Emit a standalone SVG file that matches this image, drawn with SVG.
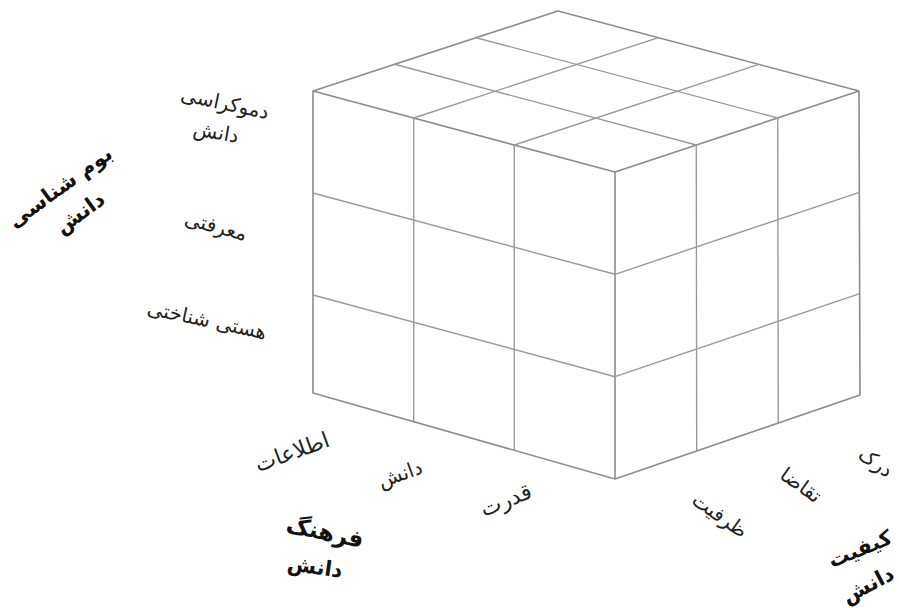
<svg xmlns="http://www.w3.org/2000/svg" width="899" height="608" viewBox="0 0 899 608">
<style>
.e{stroke:#9a9a9a;stroke-width:1.4;fill:none;stroke-linecap:round}
.o{stroke:#8c8c8c;stroke-width:1.6;fill:none;stroke-linejoin:round}
.t{font-family:"DejaVu Sans","Noto Sans",sans-serif;font-size:20px;fill:#222;text-anchor:middle;dominant-baseline:central}
.b{font-family:"DejaVu Sans","Noto Sans",sans-serif;font-size:21px;font-weight:bold;fill:#111;text-anchor:middle;dominant-baseline:central}
.l{font-size:22px}
</style>
<rect width="899" height="608" fill="#fff"/>
<g id="cube">
<g id="outline">
<polygon class="o" points="313,91 558,11 859,91 860,395 615,479 313,393"/>
<polyline class="o" points="313,91 615,172 859,91"/>
<line class="o" x1="615" y1="172" x2="615" y2="479"/>
</g>
<g id="left-face">
<line class="e" x1="413.7" y1="118" x2="413.7" y2="421.7"/>
<line class="e" x1="514.3" y1="145" x2="514.3" y2="450.3"/>
<line class="e" x1="313" y1="193" x2="615" y2="274.3"/>
<line class="e" x1="313" y1="295" x2="615" y2="376.7"/>
</g>
<g id="right-face">
<line class="e" x1="696.3" y1="145" x2="696.7" y2="451"/>
<line class="e" x1="777.7" y1="118" x2="778.3" y2="423"/>
<line class="e" x1="615" y1="274.3" x2="859.3" y2="192.3"/>
<line class="e" x1="615" y1="376.7" x2="859.7" y2="293.7"/>
</g>
<g id="top-face">
<line class="e" x1="394.7" y1="64.3" x2="696.3" y2="145"/>
<line class="e" x1="476.3" y1="37.7" x2="777.7" y2="118"/>
<line class="e" x1="413.7" y1="118" x2="658.3" y2="37.7"/>
<line class="e" x1="514.3" y1="145" x2="758.7" y2="64.3"/>
</g>
</g>
<g id="axis-ontology">
<text class="b" transform="translate(60,187) rotate(-36)">بوم شناسی</text>
<text class="b" transform="translate(80,213) rotate(-36)">دانش</text>
<text class="t" transform="translate(225,103) rotate(12)">دموکراسی</text>
<text class="t" transform="translate(216,132) rotate(10)">دانش</text>
<text class="t" transform="translate(216,226) rotate(15)">معرفتی</text>
<text class="t" transform="translate(207,320) rotate(12)">هستی شناختی</text>
</g>
<g id="axis-culture">
<text class="t l" transform="translate(292,452) rotate(-20)">اطلاعات</text>
<text class="t" transform="translate(400,474) rotate(-20)">دانش</text>
<text class="t l" transform="translate(506,500) rotate(-22)">قدرت</text>
<text class="b" style="font-size:23px" transform="translate(325,532) rotate(12)">فرهنگ</text>
<text class="b" transform="translate(315,567) rotate(8)">دانش</text>
</g>
<g id="axis-quality">
<text class="t" transform="translate(720,515) rotate(35)">ظرفیت</text>
<text class="t" transform="translate(801,485) rotate(35)">تقاضا</text>
<text class="t" transform="translate(876,462) rotate(35)">درک</text>
<text class="b" transform="translate(860,549) rotate(-22)">کیفیت</text>
<text class="b" transform="translate(868,585) rotate(-28)">دانش</text>
</g>
</svg>
